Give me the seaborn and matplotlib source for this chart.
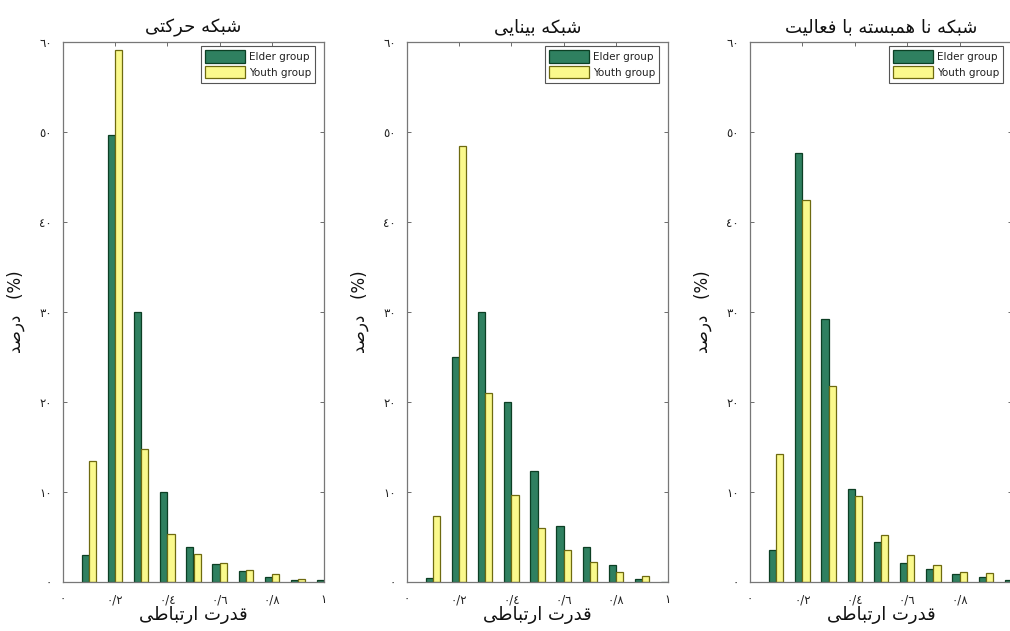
import numpy as np
import pandas as pd
import matplotlib
matplotlib.use("Agg")
import matplotlib.pyplot as plt
import seaborn as sns

# ---------------- data ----------------
bin_centers = [0.1, 0.2, 0.3, 0.4, 0.5, 0.6, 0.7, 0.8, 0.9, 1.0]
groups = ["Elder group", "Youth group"]

motor_elder = [3.0, 49.7, 30.0, 10.0, 3.9, 2.0, 1.2, 0.6, 0.25, 0.2]
motor_youth = [13.5, 59.1, 14.8, 5.3, 3.1, 2.15, 1.35, 0.9, 0.35, 0.1]

visual_elder = [0.5, 25.0, 30.0, 20.0, 12.3, 6.2, 3.9, 1.9, 0.3, 0.0]
visual_youth = [7.3, 48.5, 21.0, 9.7, 6.0, 3.6, 2.2, 1.1, 0.7, 0.0]

uncorr_elder = [3.6, 47.7, 29.2, 10.3, 4.5, 2.15, 1.4, 0.85, 0.55, 0.2]
uncorr_youth = [14.2, 42.5, 21.8, 9.6, 5.25, 2.95, 1.9, 1.1, 0.95, 0.1]

titles = ["شبکه حرکتی", "شبکه بینایی", "شبکه نا همبسته با فعالیت"]
xlabel_text = "قدرت ارتباطی"
ylabel_word = "درصد"

y_ticks = [0, 10, 20, 30, 40, 50, 60]
x_ticks = [0, 0.2, 0.4, 0.6, 0.8, 1.0]
x_ticklabels = ["٠", "٠/٢", "٠/٤", "٠/٦", "٠/٨", "١"]
y_ticklabels = ["٠", "١٠", "٢٠", "٣٠", "٤٠", "٥٠", "٦٠"]

# ---------------- minimal Arabic-script shaping (visual order) ----------------
FORMS = {
    'ا': ('\uFE8D', '\uFE8E', None, None),
    'ب': ('\uFE8F', '\uFE90', '\uFE91', '\uFE92'),
    'ت': ('\uFE95', '\uFE96', '\uFE97', '\uFE98'),
    'ح': ('\uFEA1', '\uFEA2', '\uFEA3', '\uFEA4'),
    'د': ('\uFEA9', '\uFEAA', None, None),
    'ر': ('\uFEAD', '\uFEAE', None, None),
    'س': ('\uFEB1', '\uFEB2', '\uFEB3', '\uFEB4'),
    'ش': ('\uFEB5', '\uFEB6', '\uFEB7', '\uFEB8'),
    'ص': ('\uFEB9', '\uFEBA', '\uFEBB', '\uFEBC'),
    'ط': ('\uFEC1', '\uFEC2', '\uFEC3', '\uFEC4'),
    'ع': ('\uFEC9', '\uFECA', '\uFECB', '\uFECC'),
    'ف': ('\uFED1', '\uFED2', '\uFED3', '\uFED4'),
    'ق': ('\uFED5', '\uFED6', '\uFED7', '\uFED8'),
    'ل': ('\uFEDD', '\uFEDE', '\uFEDF', '\uFEE0'),
    'م': ('\uFEE1', '\uFEE2', '\uFEE3', '\uFEE4'),
    'ن': ('\uFEE5', '\uFEE6', '\uFEE7', '\uFEE8'),
    'ه': ('\uFEE9', '\uFEEA', '\uFEEB', '\uFEEC'),
    'ی': ('\uFBFC', '\uFBFD', '\uFBFE', '\uFBFF'),
    'ک': ('\uFB8E', '\uFB8F', '\uFB90', '\uFB91'),
}


def shape(text):
    out = []
    n = len(text)
    for i, ch in enumerate(text):
        if ch not in FORMS:
            out.append(ch)
            continue
        iso, fin, ini, med = FORMS[ch]
        prev = text[i - 1] if i > 0 else None
        nxt = text[i + 1] if i < n - 1 else None
        jp = prev in FORMS and FORMS[prev][2] is not None
        jn = nxt in FORMS and ini is not None
        if jp and jn:
            out.append(med)
        elif jp:
            out.append(fin)
        elif jn:
            out.append(ini)
        else:
            out.append(iso)
    return "".join(out)[::-1]


# ---------------- figure ----------------
sns.set_theme(style="white")
plt.rcParams["font.family"] = ["DejaVu Sans"]

W, H = 1010, 631
fig = plt.figure(figsize=(W / 100, H / 100), dpi=100)
fig.patch.set_facecolor("white")

panels = [
    (motor_elder, motor_youth, 63, 324),
    (visual_elder, visual_youth, 407, 668),
    (uncorr_elder, uncorr_youth, 750, 1012),
]
top_px, bot_px = 42, 582

green = "#2F8060"
yellow = "#FAF98C"
edge_green = "#0C3F24"
edge_yellow = "#6E6A10"

for k, ((elder, youth, lpx, rpx), title) in enumerate(zip(panels, titles)):
    ax = fig.add_axes([lpx / W, (H - bot_px) / H, (rpx - lpx) / W, (bot_px - top_px) / H])
    df = pd.DataFrame({
        "x": bin_centers * 2,
        "val": elder + youth,
        "group": [groups[0]] * len(bin_centers) + [groups[1]] * len(bin_centers),
    })
    sns.barplot(data=df, x="x", y="val", hue="group", native_scale=True,
                palette={groups[0]: green, groups[1]: yellow},
                width=0.55, dodge=True, errorbar=None, saturation=1,
                linewidth=0.9, ax=ax)
    for cont, ec in zip(ax.containers, [edge_green, edge_yellow]):
        for p in cont:
            p.set_edgecolor(ec)
    ax.set_xlim(0, 1)
    ax.set_ylim(0, 60)
    ax.set_xticks(x_ticks)
    ax.set_xticklabels(x_ticklabels, fontsize=8.5)
    ax.set_yticks(y_ticks)
    ax.set_yticklabels(y_ticklabels, fontsize=8.5)
    ax.tick_params(direction="in", length=3, width=0.6, colors="#555555",
                   top=True, right=True, bottom=True, left=True,
                   labelcolor="#222222", pad=8)
    if k == 2:
        # the right end of this panel falls outside the picture
        ax.get_xticklabels()[-1].set_visible(False)
    for s in ax.spines.values():
        s.set_visible(True)
        s.set_color("#777777")
        s.set_linewidth(0.9)
    ax.set_title(shape(title), fontsize=13, pad=7, color="#111111")
    ax.set_xlabel(shape(xlabel_text), fontsize=13, labelpad=0, color="#111111")
    ax.set_ylabel(shape(ylabel_word) + "   (%)", fontsize=12, labelpad=10,
                  color="#111111")

    handles, labels = ax.get_legend_handles_labels()
    for h, ec in zip(handles, [edge_green, edge_yellow]):
        h.set_edgecolor(ec)
    leg = ax.legend(handles, labels, loc="upper right",
                    bbox_to_anchor=(0.966, 0.993), borderaxespad=0,
                    fontsize=7.5, frameon=True, fancybox=False, framealpha=1,
                    edgecolor="#555555", handlelength=3.8, handleheight=1.5,
                    handletextpad=0.4, labelspacing=0.3, borderpad=0.4)
    leg.get_frame().set_linewidth(0.8)
    for t in leg.get_texts():
        t.set_color("#222222")

fig.savefig("out.png", dpi=100, facecolor="white")
